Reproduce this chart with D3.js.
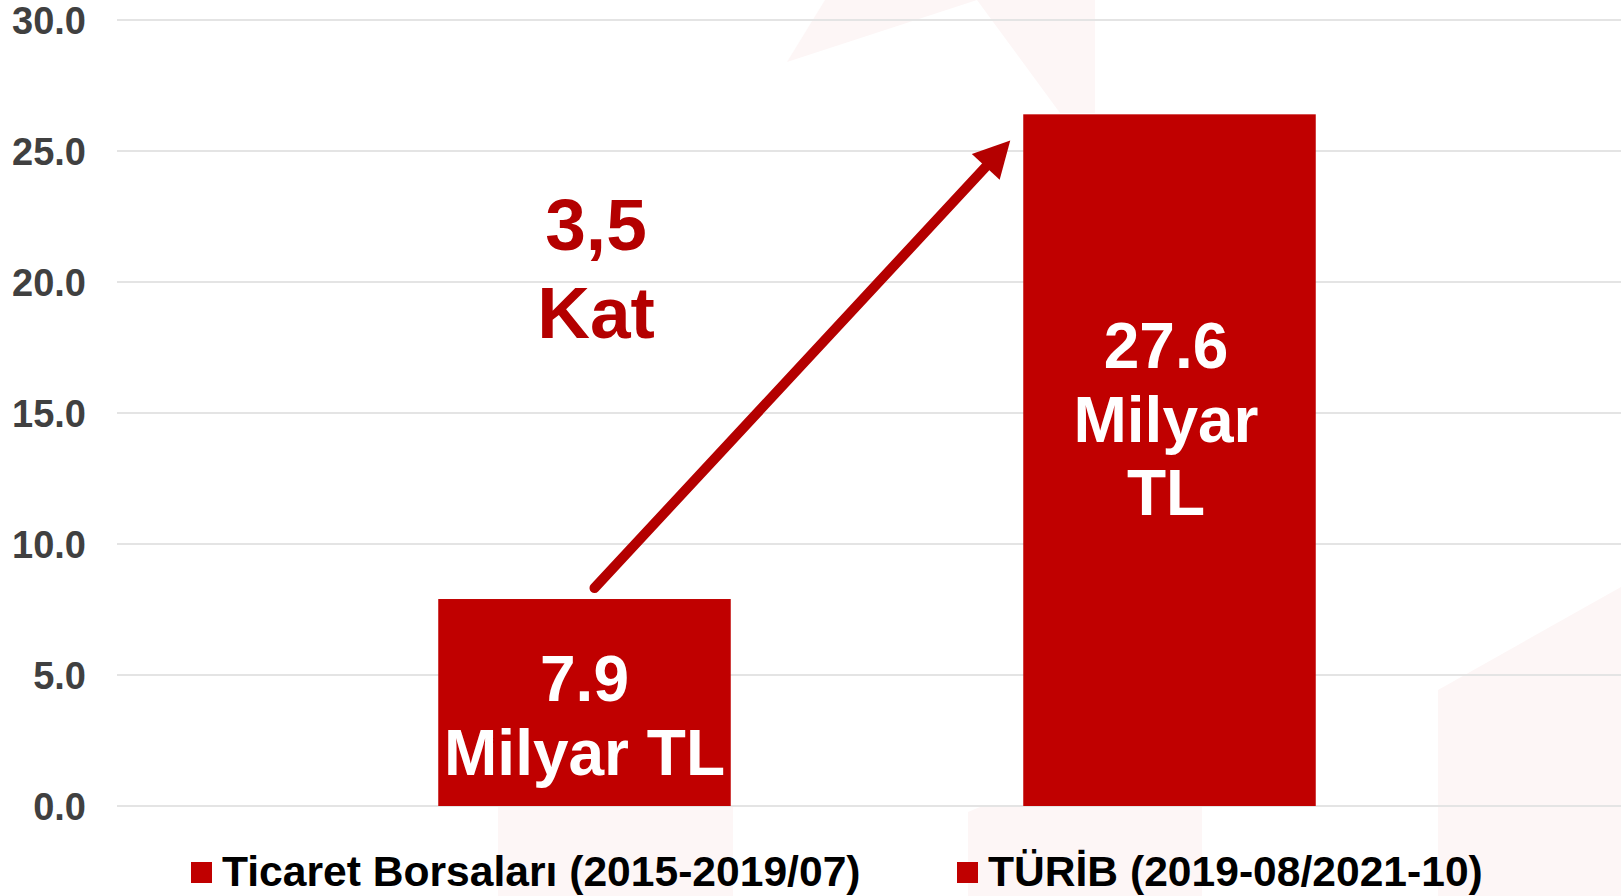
<!DOCTYPE html>
<html>
<head>
<meta charset="utf-8">
<script src="https://cdn.jsdelivr.net/npm/d3@7"></script>
<style>
  html, body { margin: 0; padding: 0; background: #ffffff; }
  svg { display: block; font-family: "Liberation Sans", Arial, Helvetica, sans-serif; font-weight: bold; }
</style>
</head>
<body>
<svg id="chart" width="1621" height="896"></svg>
<script>
// ---- data ----
const categories = ["Ticaret Borsaları (2015-2019/07)", "TÜRİB (2019-08/2021-10)"];
const values = [7.9, 26.4];
const valueLabels = [["7.9", "Milyar TL"], ["27.6", "Milyar", "TL"]];
const tickValues = [0, 5, 10, 15, 20, 25, 30];
const ratioLabel = ["3,5", "Kat"];

// ---- layout ----
const W = 1621, H = 896;
const barColor = "#c00000";
const accent = "#b40000";
const svg = d3.select("#chart");

const y = d3.scaleLinear().domain([0, 30]).range([806, 20]);
const x = d3.scaleBand().domain(categories).range([292, 1462]).paddingInner(0.5).paddingOuter(0.25);

// faint watermark shapes (background)
const wm = svg.append("g").attr("fill", "#fdf6f6");
wm.append("polygon").attr("points", "787,62 825,0 977,0");
wm.append("polygon").attr("points", "977,0 1095,0 1095,113 1060,113");
wm.append("rect").attr("x", 498).attr("y", 807).attr("width", 235).attr("height", 89);
wm.append("polygon").attr("points", "968,812 980,807 1202,807 1202,896 968,896");
wm.append("polygon").attr("points", "1438,690 1621,587 1621,896 1438,896");

// gridlines
svg.append("g")
  .selectAll("line").data(tickValues).join("line")
  .attr("x1", 117).attr("x2", W)
  .attr("y1", d => y(d)).attr("y2", d => y(d))
  .attr("stroke", "#e4e4e4").attr("stroke-width", 2);

// y axis labels
const yAxis = d3.axisLeft(y).tickValues(tickValues).tickFormat(d3.format(".1f")).tickSize(0).tickPadding(0);
const gy = svg.append("g").attr("transform", "translate(86,0)").call(yAxis);
gy.select(".domain").remove();
gy.selectAll("text")
  .attr("fill", "#404040")
  .style("font-size", "38px")
  .style("font-family", "'Liberation Sans', Arial, sans-serif")
  .style("font-weight", "bold")
  .attr("dy", "0.36em");

// bars
svg.append("g")
  .selectAll("rect").data(values).join("rect")
  .attr("x", (d, i) => x(categories[i]))
  .attr("width", x.bandwidth())
  .attr("y", d => y(d))
  .attr("height", d => y(0) - y(d))
  .attr("fill", barColor);

// value labels inside bars
const labelFirstBaseline = [y(0) - 105, y(values[1]) + 254];
const lineH = 73.5;
valueLabels.forEach((lines, i) => {
  const cx = x(categories[i]) + x.bandwidth() / 2 - (i === 1 ? 3.5 : 0);
  const t = svg.append("text")
    .attr("text-anchor", "middle")
    .attr("fill", "#ffffff")
    .style("font-size", "64px");
  lines.forEach((ln, k) => {
    t.append("tspan").attr("x", cx).attr("y", labelFirstBaseline[i] + k * lineH).text(ln);
  });
});

// ratio label
const rl = svg.append("text")
  .attr("text-anchor", "middle")
  .attr("fill", accent)
  .style("font-size", "73px");
ratioLabel.forEach((ln, k) => {
  rl.append("tspan").attr("x", 596).attr("y", 250 + k * 88).text(ln);
});

// arrow from bar 1 to bar 2
const sx = x(categories[0]) + x.bandwidth() / 2 + 10, sy = y(values[0]) - 11;
const ex = x(categories[1]) - 13, ey = y(25.4);
const dx = ex - sx, dy = ey - sy, len = Math.hypot(dx, dy);
const ux = dx / len, uy = dy / len, px = -uy, py = ux;
const headL = 36, headW = 19;
const bx = ex - ux * headL, by = ey - uy * headL;
svg.append("line")
  .attr("x1", sx).attr("y1", sy)
  .attr("x2", ex - ux * (headL - 4)).attr("y2", ey - uy * (headL - 4))
  .attr("stroke", accent).attr("stroke-width", 10).attr("stroke-linecap", "round");
svg.append("path")
  .attr("d", `M${ex},${ey} L${bx + px * headW},${by + py * headW} L${bx - px * headW},${by - py * headW} Z`)
  .attr("fill", accent);

// legend
const legendX = [191, 957];
const lg = svg.append("g");
categories.forEach((c, i) => {
  lg.append("rect").attr("x", legendX[i]).attr("y", 862).attr("width", 21).attr("height", 21).attr("fill", barColor);
  lg.append("text").attr("x", legendX[i] + 31).attr("y", 886)
    .attr("fill", "#000000").style("font-size", "42.6px").text(c);
});
</script>
</body>
</html>
